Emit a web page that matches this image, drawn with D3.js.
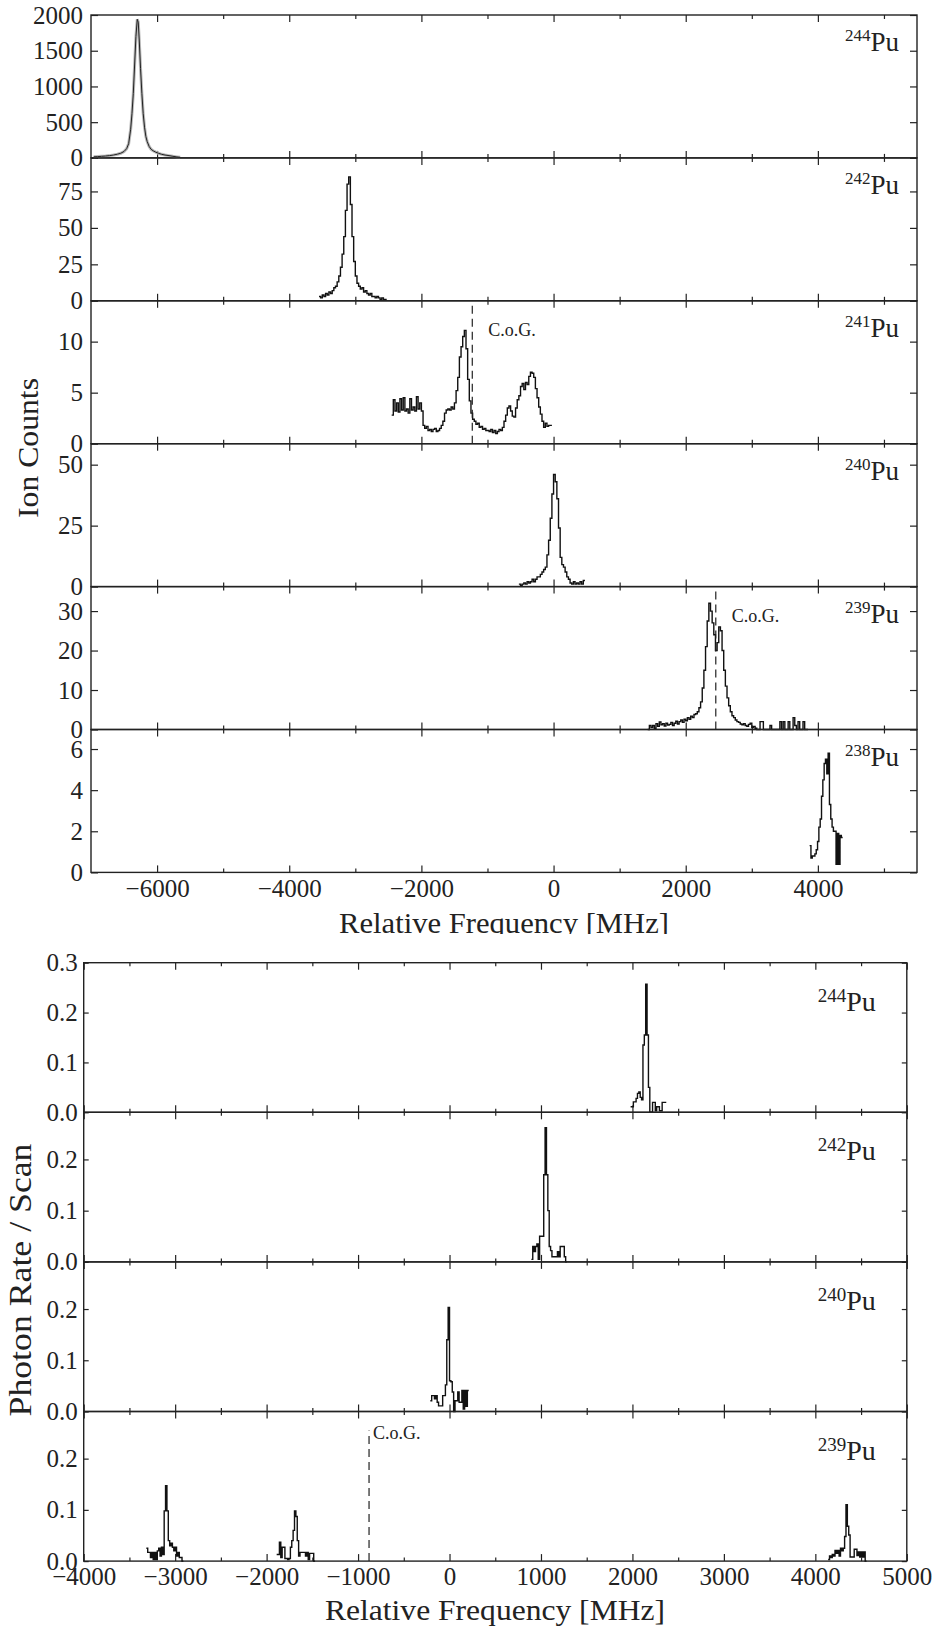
<!DOCTYPE html>
<html>
<head>
<meta charset="utf-8">
<script src="https://cdn.jsdelivr.net/npm/d3@7"></script>
<style>
  body { margin: 0; background: #fff; }
  text { font-family: "Liberation Serif", "Times New Roman", serif; fill: #222; }
</style>
</head>
<body>
<div id="chart"></div>
<script>
// ---- upper figure: ion counts vs relative frequency ----
var ionIsotopes = ["244", "242", "241", "240", "239", "238"];
var ionYMax = [2000, 98, 14, 58.6, 36.2, 6.95];
var ionYTicks = [[0, 500, 1000, 1500, 2000], [0, 25, 50, 75], [0, 5, 10], [0, 25, 50], [0, 10, 20, 30], [0, 2, 4, 6]];
var ionXMajor = [-6000, -4000, -2000, 0, 2000, 4000];
var ionXMinor = [-5000, -3000, -1000, 1000, 3000, 5000];

var pu244IonFreq = [-6960, -6900, -6840, -6780, -6720, -6660, -6600, -6550, -6500, -6460, -6430, -6400, -6380, -6360, -6340, -6320, -6300, -6285, -6270, -6250, -6230, -6210, -6190, -6170, -6150, -6120, -6090, -6060, -6020, -5980, -5930, -5880, -5820, -5760, -5700, -5650];
var pu244IonCounts = [15, 18, 22, 26, 32, 40, 52, 65, 90, 130, 200, 400, 620, 900, 1300, 1700, 1940, 1900, 1650, 1250, 900, 620, 430, 300, 230, 160, 120, 100, 80, 65, 50, 40, 32, 22, 14, 8];

var pu242IonStart = -3550, pu242IonStep = 25;
var pu242IonCounts = [3, 2, 4, 3, 5, 4, 6, 5, 7, 9, 10, 13, 17, 23, 32, 44, 62, 80, 85, 66, 44, 27, 17, 12, 10, 8, 9, 6, 7, 5, 4, 5, 3, 3, 2, 3, 2, 1, 2, 1, 1];

var pu241IonStart = -2450, pu241IonStep = 25;
var pu241IonCounts = [2.8, 4.3, 3.2, 4.0, 3.1, 4.4, 3.3, 4.5, 3.2, 3.4,
  3.0, 4.4, 3.3, 3.6, 3.2, 4.6, 3.4, 4.0, 3.2, 1.8,
  1.5, 1.7, 1.3, 1.4, 1.2, 1.4, 1.5, 1.2, 1.3, 1.5,
  1.8, 2.2, 3.0, 3.3, 3.4, 3.3, 3.6, 3.4, 4.0, 5.2,
  6.5, 8.5, 9.5, 10.5, 11.1, 9.3, 6.3, 4.2, 3.0, 2.4,
  2.2, 1.9, 2.0, 1.6, 1.7, 1.4, 1.5, 1.3, 1.3, 1.2,
  1.4, 1.1, 1.3, 1.0, 1.2, 1.4, 1.3, 1.6, 2.2, 2.8,
  3.5, 3.7, 3.2, 2.7, 2.6, 3.5, 4.3, 4.7, 5.6, 5.9,
  5.3, 6.0, 5.8, 6.6, 7.0, 6.9, 6.5, 5.4, 4.5, 3.6,
  2.9, 2.2, 1.6, 2.0, 1.7, 1.8, 1.8];

var pu240IonStart = -525, pu240IonStep = 25;
var pu240IonCounts = [1, 0.5, 1, 1.5, 1, 2, 1.5, 2, 3, 2, 3, 4, 4, 5, 6, 7, 8, 13, 19, 28, 38, 46, 43, 36, 24, 12, 9, 8, 6, 4, 3, 1.5, 1, 2, 1, 1.5, 1, 2, 1, 2.5];

var pu239IonStart = 1425, pu239IonStep = 25;
var pu239IonCounts = [0, 1, 0.5, 1, 0.3, 1.5, 0.8, 1.9, 1.2, 1.5,
  0.9, 1.6, 1.1, 1.3, 1.8, 1.0, 1.6, 2.1, 1.4, 2.0,
  2.4, 1.8, 2.6, 2.2, 3.0, 2.6, 3.4, 3.0, 3.8, 4.0,
  4.5, 5.5, 7, 10.5, 15, 21, 27.5, 32, 30, 27,
  24, 20, 22, 26, 25, 20, 15, 11, 8, 6,
  4.5, 3.5, 3, 2.4, 2, 1.8, 1.4, 1.2, 1.5, 1.0,
  0.8, 1.3, 1.6, 0.5, 0.8, 0.3, 0, 0, 2, 2,
  0, 0, 0, 0, 1, 0, 0, 0, 0, 0,
  2, 0, 2, 0, 0, 2, 0, 0, 3, 1,
  0, 2, 0, 0, 2, 0, 0];

var pu238IonStart = 3875, pu238IonStep = 20;
var pu238IonCounts = [1.3, 0.7, 0.8, 0.8, 0.9, 1.1, 1.5, 2.2, 2.6, 3.7, 4.5, 5.3, 5.5, 4.8, 5.8, 3.3, 2.6, 2.2, 2.0, 2.0, 0.4, 1.9, 0.4, 1.8, 1.7];

var ionCog241 = -1230;
var ionCog239 = 2455;

// ---- lower figure: photon rate per scan ----
var photonIsotopes = ["244", "242", "240", "239"];
var photonYMax = [0.3, 0.292, 0.292, 0.292];
var photonYTicks = [[0, 0.1, 0.2, 0.3], [0, 0.1, 0.2], [0, 0.1, 0.2], [0, 0.1, 0.2]];
var photonXMajor = [-4000, -3000, -2000, -1000, 0, 1000, 2000, 3000, 4000, 5000];
var photonXMinor = [-3500, -2500, -1500, -500, 500, 1500, 2500, 3500, 4500];

var pu244PhotonStart = 1980, pu244PhotonStep = 15;
var pu244PhotonRate = [0.011, 0.011, 0.021, 0.021, 0.028, 0.038, 0.041, 0.030, 0.025, 0.135, 0.155, 0.257, 0.155, 0.05, 0, 0, 0.02, 0.02, 0.003, 0.011, 0.011, 0.003, 0.003, 0.02, 0.02, 0.02];

var pu242PhotonStart = 895, pu242PhotonStep = 15;
var pu242PhotonRate = [0.005, 0.03, 0.02, 0.03, 0.035, 0.005, 0.05, 0.05, 0.05, 0.17, 0.262, 0.17, 0.1, 0.03, 0.022, 0.01, 0.01, 0.01, 0.01, 0.02, 0.01, 0.03, 0.03, 0.03, 0.01, 0];

var pu240PhotonStart = -210, pu240PhotonStep = 15;
var pu240PhotonRate = [0.021, 0.031, 0.031, 0.025, 0.031, 0.018, 0.011, 0.011, 0.011, 0.031, 0.031, 0.052, 0.14, 0.203, 0.06, 0.058, 0.038, 0, 0.021, 0.021, 0.038, 0.018, 0.018, 0.041, 0.005, 0.041, 0.01, 0.041];

var pu239PhotonStartA = -3315, pu239PhotonStartB = -1890, pu239PhotonStartC = 4140, pu239PhotonStep = 15;
var pu239PhotonRateA = [0.025, 0.017, 0.017, 0.007, 0.017, 0.003, 0.017, 0.003, 0.02, 0.025, 0.01, 0.027, 0.013, 0.098, 0.147, 0.098, 0.04, 0.03, 0.035, 0.027, 0.02, 0.027, 0.01, 0.017, 0.007, 0.007, 0];
var pu239PhotonRateB = [0.013, 0.013, 0.037, 0.007, 0.027, 0.027, 0.005, 0.005, 0.003, 0.005, 0.027, 0.04, 0.06, 0.098, 0.087, 0.04, 0.01, 0.017, 0.017, 0.017, 0.017, 0.01, 0.017, 0.003, 0.015, 0.015, 0.015, 0];
var pu239PhotonRateC = [0.003, 0.01, 0.007, 0.013, 0.01, 0.021, 0.015, 0.021, 0.01, 0.025, 0.02, 0.025, 0.048, 0.11, 0.068, 0.051, 0.008, 0.008, 0.008, 0.023, 0.023, 0.011, 0.018, 0.008, 0.018, 0.008, 0.018, 0];

var photonCog239 = -880;

// turn a scan (start, step, values) into step points, last bin closed
function bins(start, step, values) {
    var pts = values.map(function(v, i) { return [start + i * step, v]; });
    pts.push([start + values.length * step, values[values.length - 1]]);
    return pts;
}

function panel(g, x, p) {
    var y = d3.scaleLinear().domain([0, p.ymax]).range([p.top + p.h, p.top]);
    var bottom = p.top + p.h;
    var x0 = x.range()[0], x1 = x.range()[1];

    function style(a) {
        a.attr("color", "#222").attr("font-family", null).attr("font-size", null);
        a.select(".domain").remove();
        a.selectAll("line").attr("stroke-width", 1.2);
        a.selectAll("text").attr("font-size", 25)
            .style("font-family", "'Liberation Serif', 'Times New Roman', serif");
    }

    g.append("g").attr("transform", "translate(0," + bottom + ")")
        .call(d3.axisBottom(x).tickValues(p.xMajor).tickSize(-p.majorLen).tickPadding(p.xPad)
            .tickFormat(p.last ? d3.format("d") : ""))
        .call(style);
    g.append("g").attr("transform", "translate(0," + bottom + ")")
        .call(d3.axisBottom(x).tickValues(p.xMinor).tickSize(-p.minorLen).tickFormat(""))
        .call(style);
    g.append("g").attr("transform", "translate(0," + p.top + ")")
        .call(d3.axisTop(x).tickValues(p.xMajor).tickSize(-p.majorLen).tickFormat(""))
        .call(style);
    g.append("g").attr("transform", "translate(0," + p.top + ")")
        .call(d3.axisTop(x).tickValues(p.xMinor).tickSize(-p.minorLen).tickFormat(""))
        .call(style);
    g.append("g").attr("transform", "translate(" + x0 + ",0)")
        .call(d3.axisLeft(y).tickValues(p.yTicks).tickSize(-p.yLen).tickPadding(p.yPad).tickFormat(p.yFmt))
        .call(style);
    g.append("g").attr("transform", "translate(" + x1 + ",0)")
        .call(d3.axisRight(y).tickValues(p.yTicks).tickSize(-p.yLen).tickFormat(""))
        .call(style);

    g.append("rect")
        .attr("x", x0).attr("y", p.top)
        .attr("width", x1 - x0).attr("height", p.h)
        .attr("fill", "none").attr("stroke", "#222").attr("stroke-width", 1.4);

    // isotope label, e.g. 244Pu
    var t = g.append("text")
        .attr("x", x1 - p.labInset).attr("y", p.top + p.labDrop)
        .attr("text-anchor", "end");
    t.append("tspan").attr("font-size", p.supSize).attr("dy", -p.rise).text(p.iso);
    t.append("tspan").attr("font-size", p.puSize).attr("dy", p.rise).text("Pu");

    return y;
}

function drawSeries(g, x, y, pts, smooth) {
    var line = d3.line()
        .x(function(d) { return x(d[0]); })
        .y(function(d) { return y(d[1]); })
        .curve(smooth ? d3.curveLinear : d3.curveStepAfter);
    if (smooth) {
        g.append("path").datum(pts).attr("d", line)
            .attr("fill", "none").attr("stroke", "#b8b8b8").attr("stroke-width", 3);
        g.append("path").datum(pts).attr("d", line)
            .attr("fill", "none").attr("stroke", "#222").attr("stroke-width", 1);
    } else {
        g.append("path").datum(pts).attr("d", line)
            .attr("fill", "none").attr("stroke", "#111").attr("stroke-width", 1.4)
            .attr("stroke-linejoin", "miter");
    }
}

function cog(g, x, y, f, yTopPx, labDx, labY) {
    g.append("line")
        .attr("x1", x(f)).attr("x2", x(f))
        .attr("y1", y(0)).attr("y2", yTopPx)
        .attr("stroke", "#222").attr("stroke-width", 1.2)
        .attr("stroke-dasharray", "8,5");
    g.append("text")
        .attr("x", x(f) + labDx).attr("y", labY)
        .attr("font-size", 18).attr("fill", "#444")
        .text("C.o.G.");
}

function init() {
    var svg = d3.select("#chart").append("svg")
        .attr("width", 937).attr("height", 1633);
    svg.append("rect").attr("width", 937).attr("height", 1633).attr("fill", "#fff");

    svg.append("defs").append("clipPath").attr("id", "topClip")
        .append("rect").attr("x", 0).attr("y", 0).attr("width", 937).attr("height", 934);

    // ---------- upper figure ----------
    var up = svg.append("g").attr("clip-path", "url(#topClip)");
    var xIon = d3.scaleLinear().domain([-7000, 5500]).range([91, 917]);
    var ionTop = 15, ionH = 142.9;

    var ionData = [
        [pu244IonFreq.map(function(f, i) { return [f, pu244IonCounts[i]]; })],
        [bins(pu242IonStart, pu242IonStep, pu242IonCounts)],
        [bins(pu241IonStart, pu241IonStep, pu241IonCounts)],
        [bins(pu240IonStart, pu240IonStep, pu240IonCounts)],
        [bins(pu239IonStart, pu239IonStep, pu239IonCounts)],
        [bins(pu238IonStart, pu238IonStep, pu238IonCounts)]
    ];

    ionIsotopes.forEach(function(iso, i) {
        var top = ionTop + i * ionH;
        var y = panel(up, xIon, {
            top: top, h: ionH, ymax: ionYMax[i], yTicks: ionYTicks[i], yFmt: d3.format("d"),
            xMajor: ionXMajor, xMinor: ionXMinor, majorLen: 7, minorLen: 4, yLen: 7,
            xPad: 7, yPad: 8, last: i === ionIsotopes.length - 1,
            iso: iso, labInset: 18, labDrop: 36, supSize: 17, puSize: 27, rise: 10
        });
        ionData[i].forEach(function(pts) {
            drawSeries(up, xIon, y, pts, i === 0);
        });
        if (iso === "241") cog(up, xIon, y, ionCog241, top, 16, top + 35);
        if (iso === "239") cog(up, xIon, y, ionCog239, top, 16, top + 35);
    });

    up.append("text")
        .attr("x", 504).attr("y", 933)
        .attr("text-anchor", "middle").attr("font-size", 30)
        .attr("textLength", 330).attr("lengthAdjust", "spacingAndGlyphs")
        .text("Relative Frequency [MHz]");

    up.append("text")
        .attr("transform", "translate(38,448) rotate(-90)")
        .attr("text-anchor", "middle").attr("font-size", 30)
        .attr("textLength", 140).attr("lengthAdjust", "spacingAndGlyphs")
        .text("Ion Counts");

    // ---------- lower figure ----------
    var low = svg.append("g");
    var xPhoton = d3.scaleLinear().domain([-4000, 5000]).range([83.7, 906.8]);
    var phTop = 962.7, phH = 149.6;

    var photonData = [
        [bins(pu244PhotonStart, pu244PhotonStep, pu244PhotonRate)],
        [bins(pu242PhotonStart, pu242PhotonStep, pu242PhotonRate)],
        [bins(pu240PhotonStart, pu240PhotonStep, pu240PhotonRate)],
        [bins(pu239PhotonStartA, pu239PhotonStep, pu239PhotonRateA),
         bins(pu239PhotonStartB, pu239PhotonStep, pu239PhotonRateB),
         bins(pu239PhotonStartC, pu239PhotonStep, pu239PhotonRateC)]
    ];

    photonIsotopes.forEach(function(iso, i) {
        var top = phTop + i * phH;
        var y = panel(low, xPhoton, {
            top: top, h: phH, ymax: photonYMax[i], yTicks: photonYTicks[i], yFmt: d3.format(".1f"),
            xMajor: photonXMajor, xMinor: photonXMinor, majorLen: 7, minorLen: 3.5, yLen: 5,
            xPad: 6, yPad: 6, last: i === photonIsotopes.length - 1,
            iso: iso, labInset: 31, labDrop: 48, supSize: 19, puSize: 28, rise: 9
        });
        photonData[i].forEach(function(pts) {
            drawSeries(low, xPhoton, y, pts, false);
        });
        if (iso === "239") cog(low, xPhoton, y, photonCog239, top + 19, 4, top + 27);
    });

    low.append("text")
        .attr("x", 495).attr("y", 1620)
        .attr("text-anchor", "middle").attr("font-size", 30)
        .attr("textLength", 340).attr("lengthAdjust", "spacingAndGlyphs")
        .text("Relative Frequency [MHz]");

    low.append("text")
        .attr("transform", "translate(31,1280) rotate(-90)")
        .attr("text-anchor", "middle").attr("font-size", 31)
        .attr("textLength", 273).attr("lengthAdjust", "spacingAndGlyphs")
        .text("Photon Rate / Scan");
}

window.onload = init;
</script>
</body>
</html>
